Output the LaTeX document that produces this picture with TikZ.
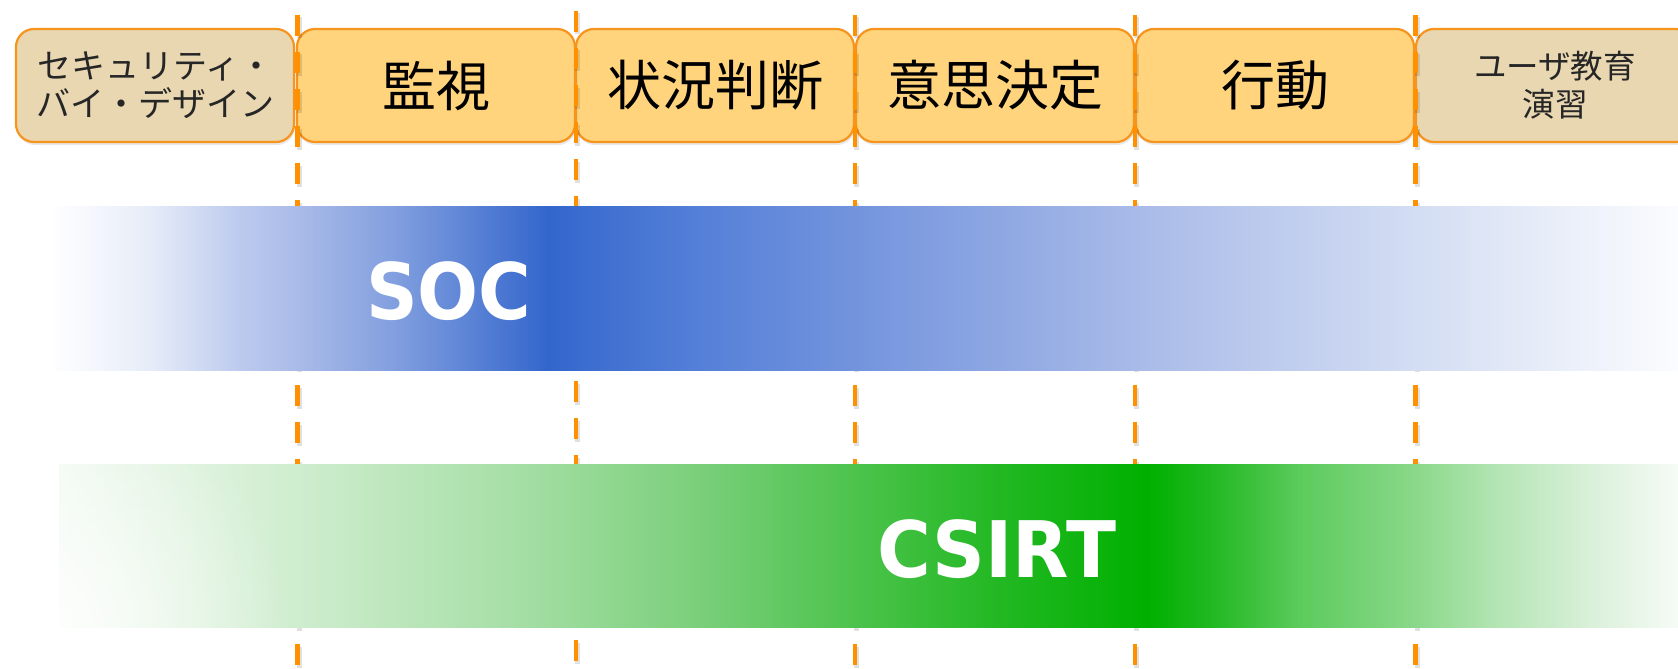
\documentclass[tikz,border=0pt]{standalone}
\usepackage{fontspec}
\newfontfamily\jp{Noto Sans CJK JP}
\newfontfamily\bandfont{DejaVu Sans}
\usetikzlibrary{shadows,fadings}
\definecolor{boxfill}{HTML}{FFD47D}
\definecolor{sidefill}{HTML}{E8D7B1}
\definecolor{boxline}{HTML}{F7941D}
\definecolor{dashcol}{HTML}{FF9100}
% SOC band colours
\definecolor{sA}{HTML}{FFFFFF}
\definecolor{sB}{HTML}{E6ECF8}
\definecolor{sC}{HTML}{BCCAEE}
\definecolor{sD}{HTML}{AABBE8}
\definecolor{sE}{HTML}{7F9DDE}
\definecolor{sF}{HTML}{3366CC}
\definecolor{sG}{HTML}{5580D8}
\definecolor{sH}{HTML}{7394DD}
\definecolor{sI}{HTML}{A8BAE8}
\definecolor{sJ}{HTML}{D3DDF3}
\definecolor{sK}{HTML}{FBFCFE}
% CSIRT band colours
\definecolor{cA}{HTML}{F2FAF2}
\definecolor{cB}{HTML}{CFEDCF}
\definecolor{cC}{HTML}{A5DEA5}
\definecolor{cD}{HTML}{7ACF7A}
\definecolor{cE}{HTML}{4CC34C}
\definecolor{cF}{HTML}{22B822}
\definecolor{cG}{HTML}{00B000}
\definecolor{cH}{HTML}{20B820}
\definecolor{cI}{HTML}{5CCB5C}
\definecolor{cJ}{HTML}{8AD88A}
\definecolor{cK}{HTML}{B5E5B5}
\definecolor{cL}{HTML}{DDF1DD}
\definecolor{cM}{HTML}{F6FBF6}
\pgfdeclarehorizontalshading{socshade}{100bp}{color(0bp)=(sA); color(25bp)=(sA);
 color(28.13bp)=(sB); color(30.89bp)=(sC); color(32.64bp)=(sD); color(35.80bp)=(sE);
 color(40.34bp)=(sF); color(45bp)=(sG); color(49.79bp)=(sH); color(58.31bp)=(sI);
 color(66.93bp)=(sJ); color(75bp)=(sK); color(100bp)=(sK)}
\pgfdeclarehorizontalshading{csirtshade}{100bp}{color(0bp)=(cA); color(25bp)=(cA);
 color(32.35bp)=(cB); color(39.24bp)=(cC); color(44.80bp)=(cD); color(49.61bp)=(cE);
 color(54.06bp)=(cF); color(58.6bp)=(cG); color(60.5bp)=(cH); color(63.33bp)=(cI);
 color(66.88bp)=(cJ); color(69.50bp)=(cK); color(72.59bp)=(cL); color(75bp)=(cM); color(100bp)=(cM)}
\tikzfading[name=spotfade, inner color=transparent!15, outer color=transparent!100]
\begin{document}
\begin{tikzpicture}[x=1pt,y=-1pt,
  phasebox/.style={draw=boxline, line width=2.2pt, fill=boxfill, rounded corners=18pt,
    minimum width=278pt, minimum height=113pt, inner sep=0pt,
    drop shadow={shadow xshift=1pt, shadow yshift=-3pt, opacity=0.18},
    font=\jp\fontsize{54}{60}\selectfont, text=black},
  sidebox/.style={phasebox, fill=sidefill, align=center, text=black!85},
  dashline/.style={draw=dashcol, line width=4.5pt, dash pattern=on 21pt off 16pt},
  dashshadow/.style={draw=black, opacity=0.12, line width=5pt, dash pattern=on 21pt off 16pt},
  band/.style={inner sep=0pt, minimum height=163.5pt},
  bandtext/.style={text=white, font=\bandfont\bfseries\fontsize{78}{80}\selectfont, inner sep=0pt}
]
\useasboundingbox (0,0) rectangle (1678,669);
\clip (0,0) rectangle (1678,669);
\fill[white] (0,0) rectangle (1678,669);

% top boxes
\node[sidebox, font=\jp\fontsize{34}{38}\selectfont]  (b1) at (155,85.5)  {セキュリティ・\\バイ・デザイン};
\node[phasebox] (b2) at (436,85.5)  {監視};
\node[phasebox] (b3) at (715,85.5)  {状況判断};
\node[phasebox] (b4) at (995,85.5)  {意思決定};
\node[phasebox] (b5) at (1275,85.5) {行動};
\node[sidebox, font=\jp\fontsize{32.5}{38}\selectfont]  (b6) at (1555,85.5) {ユーザ教育\\演習};

% dashed separators
\foreach \i/\x/\y in {1/297.5/15, 2/576/11, 3/855/15, 4/1135/15, 5/1415.5/15}{
  \coordinate (t\i) at (\x,\y);
  \coordinate (e\i) at (\x,669);
  \draw[dashshadow] ([shift={(1.5,2.5)}]t\i) -- ([shift={(1.5,2.5)}]e\i);
  \draw[dashline] (t\i) -- (e\i);
}

% bands
\node[band, shading=socshade, minimum width=1630pt] (socband) at (863,288.25) {};
\node[bandtext] (soc) at (449,291) {\scalebox{0.92}[1]{SOC}};
\node[band, shading=csirtshade, minimum width=1619pt] (csirtband) at (868.5,545.75) {};
\begin{scope}
  \clip (csirtband.north west) rectangle (csirtband.south east);
  \fill[white, path fading=spotfade] (csirtband.south west) circle (230);
\end{scope}
\node[bandtext] (csirt) at (997,549) {\scalebox{0.94}[1]{CSIRT}};
\end{tikzpicture}
\end{document}
